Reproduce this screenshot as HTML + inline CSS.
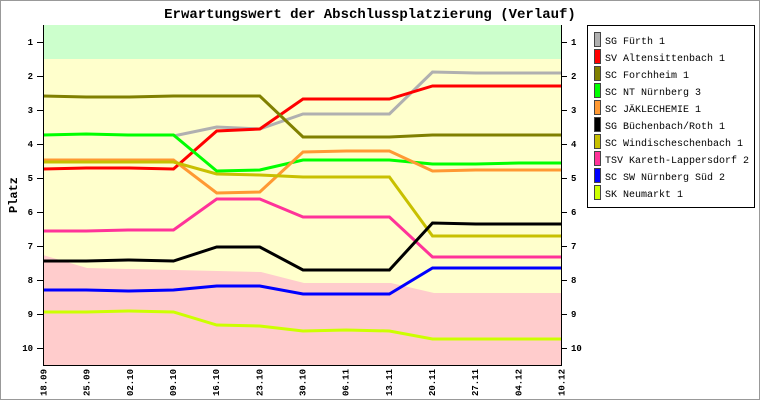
<!DOCTYPE html>
<html><head><meta charset="utf-8"><style>
html,body{margin:0;padding:0;background:#fff}
svg{display:block}
text{font-family:"Liberation Mono",monospace;}
</style></head><body>
<svg width="760" height="400" viewBox="0 0 760 400" xmlns="http://www.w3.org/2000/svg">
<rect x="0.5" y="0.5" width="759" height="399" fill="#fff" stroke="#999" stroke-width="1"/>
<text x="370" y="18" text-anchor="middle" font-size="14" font-weight="bold">Erwartungswert der Abschlussplatzierung (Verlauf)</text>
<rect x="43" y="25" width="519" height="34" fill="#ccffcc"/>
<rect x="43" y="59" width="519" height="306" fill="#ffffcc"/>
<polygon fill="#ffcccc" points="43,255 87,268 261,272 304,283 391,283 434,293 562,293 562,365 43,365"/>
<g fill="none" stroke-width="3">
<polyline stroke="#b0b0b0" points="173.5,136 216.7,127 259.8,129 303,114 346.2,114 389.4,114 432.5,72 475.7,73 518.9,73 562,73"/>
<polyline stroke="#ff0000" points="43,169 86.2,168 129.3,168 173.5,169 216.7,131 259.8,129 303,99 346.2,99 389.4,99 432.5,86 475.7,86 518.9,86 562,86"/>
<polyline stroke="#808000" points="43,96 86.2,97 129.3,97 173.5,96 216.7,96 259.8,96 303,137 346.2,137 389.4,137 432.5,135 475.7,135 518.9,135 562,135"/>
<polyline stroke="#00ff00" points="43,135 86.2,134 129.3,135 173.5,135 216.7,171 259.8,170 303,160 346.2,160 389.4,160 432.5,164 475.7,164 518.9,163 562,163"/>
<polyline stroke="#ff9933" points="43,160 86.2,160 129.3,160 173.5,160 216.7,193 259.8,192 303,152 346.2,151 389.4,151 432.5,171 475.7,170 518.9,170 562,170"/>
<polyline stroke="#c8c000" points="43,162 86.2,162 129.3,162 173.5,162 216.7,174 259.8,175 303,177 346.2,177 389.4,177 432.5,236 475.7,236 518.9,236 562,236"/>
<polyline stroke="#ff3399" points="43,231 86.2,231 129.3,230 173.5,230 216.7,199 259.8,199 303,217 346.2,217 389.4,217 432.5,257 475.7,257 518.9,257 562,257"/>
<polyline stroke="#000000" points="43,261 86.2,261 129.3,260 173.5,261 216.7,247 259.8,247 303,270 346.2,270 389.4,270 432.5,223 475.7,224 518.9,224 562,224"/>
<polyline stroke="#0000ff" points="43,290 86.2,290 129.3,291 173.5,290 216.7,286 259.8,286 303,294 346.2,294 389.4,294 432.5,268 475.7,268 518.9,268 562,268"/>
<polyline stroke="#ccff00" points="43,312 86.2,312 129.3,311 173.5,312 216.7,325 259.8,326 303,331 346.2,330 389.4,331 432.5,339 475.7,339 518.9,339 562,339"/>
</g>
<g stroke="#000" stroke-width="1">
<line x1="43.5" y1="25" x2="43.5" y2="365"/>
<line x1="561.5" y1="25" x2="561.5" y2="365"/>
<line x1="43" y1="365.5" x2="562" y2="365.5"/>
<line x1="37" y1="42.5" x2="43" y2="42.5"/><line x1="561" y1="42.5" x2="567" y2="42.5"/>
<line x1="37" y1="76.5" x2="43" y2="76.5"/><line x1="561" y1="76.5" x2="567" y2="76.5"/>
<line x1="37" y1="110.5" x2="43" y2="110.5"/><line x1="561" y1="110.5" x2="567" y2="110.5"/>
<line x1="37" y1="144.5" x2="43" y2="144.5"/><line x1="561" y1="144.5" x2="567" y2="144.5"/>
<line x1="37" y1="178.5" x2="43" y2="178.5"/><line x1="561" y1="178.5" x2="567" y2="178.5"/>
<line x1="37" y1="212.5" x2="43" y2="212.5"/><line x1="561" y1="212.5" x2="567" y2="212.5"/>
<line x1="37" y1="246.5" x2="43" y2="246.5"/><line x1="561" y1="246.5" x2="567" y2="246.5"/>
<line x1="37" y1="280.5" x2="43" y2="280.5"/><line x1="561" y1="280.5" x2="567" y2="280.5"/>
<line x1="37" y1="314.5" x2="43" y2="314.5"/><line x1="561" y1="314.5" x2="567" y2="314.5"/>
<line x1="37" y1="348.5" x2="43" y2="348.5"/><line x1="561" y1="348.5" x2="567" y2="348.5"/>
</g>
<g font-size="9" font-weight="bold">
<g text-anchor="end">
<text x="33" y="45">1</text><text x="33" y="79">2</text><text x="33" y="113">3</text><text x="33" y="147">4</text><text x="33" y="181">5</text><text x="33" y="215">6</text><text x="33" y="249">7</text><text x="33" y="283">8</text><text x="33" y="317">9</text><text x="33" y="351">10</text>
</g>
<text x="571" y="45">1</text><text x="571" y="79">2</text><text x="571" y="113">3</text><text x="571" y="147">4</text><text x="571" y="181">5</text><text x="571" y="215">6</text><text x="571" y="249">7</text><text x="571" y="283">8</text><text x="571" y="317">9</text><text x="571" y="351">10</text>
<g text-anchor="end">
<text transform="translate(46.5,369) rotate(-90)">18.09</text>
<text transform="translate(89.7,369) rotate(-90)">25.09</text>
<text transform="translate(132.8,369) rotate(-90)">02.10</text>
<text transform="translate(176,369) rotate(-90)">09.10</text>
<text transform="translate(219.2,369) rotate(-90)">16.10</text>
<text transform="translate(262.3,369) rotate(-90)">23.10</text>
<text transform="translate(305.5,369) rotate(-90)">30.10</text>
<text transform="translate(348.7,369) rotate(-90)">06.11</text>
<text transform="translate(391.9,369) rotate(-90)">13.11</text>
<text transform="translate(435,369) rotate(-90)">20.11</text>
<text transform="translate(478.2,369) rotate(-90)">27.11</text>
<text transform="translate(521.4,369) rotate(-90)">04.12</text>
<text transform="translate(564.5,369) rotate(-90)">10.12</text>
</g>
</g>
<text transform="translate(17,195) rotate(-90)" text-anchor="middle" font-size="12" font-weight="bold">Platz</text>
<rect x="587.5" y="25.5" width="167" height="182" fill="#fff" stroke="#000"/>
<g stroke="#444" stroke-width="1">
<rect x="594.5" y="32.5" width="6" height="14" fill="#b0b0b0"/>
<rect x="594.5" y="49.5" width="6" height="14" fill="#ff0000"/>
<rect x="594.5" y="66.5" width="6" height="14" fill="#808000"/>
<rect x="594.5" y="83.5" width="6" height="14" fill="#00ff00"/>
<rect x="594.5" y="100.5" width="6" height="14" fill="#ff9933"/>
<rect x="594.5" y="117.5" width="6" height="14" fill="#000000"/>
<rect x="594.5" y="134.5" width="6" height="14" fill="#c8c000"/>
<rect x="594.5" y="151.5" width="6" height="14" fill="#ff3399"/>
<rect x="594.5" y="168.5" width="6" height="14" fill="#0000ff"/>
<rect x="594.5" y="185.5" width="6" height="14" fill="#ccff00"/>
</g>
<g font-size="10">
<text x="605" y="44">SG Fürth 1</text>
<text x="605" y="61">SV Altensittenbach 1</text>
<text x="605" y="78">SC Forchheim 1</text>
<text x="605" y="95">SC NT Nürnberg 3</text>
<text x="605" y="112">SC JÄKLECHEMIE 1</text>
<text x="605" y="129">SG Büchenbach/Roth 1</text>
<text x="605" y="146">SC Windischeschenbach 1</text>
<text x="605" y="163">TSV Kareth-Lappersdorf 2</text>
<text x="605" y="180">SC SW Nürnberg Süd 2</text>
<text x="605" y="197">SK Neumarkt 1</text>
</g>
</svg>
</body></html>
